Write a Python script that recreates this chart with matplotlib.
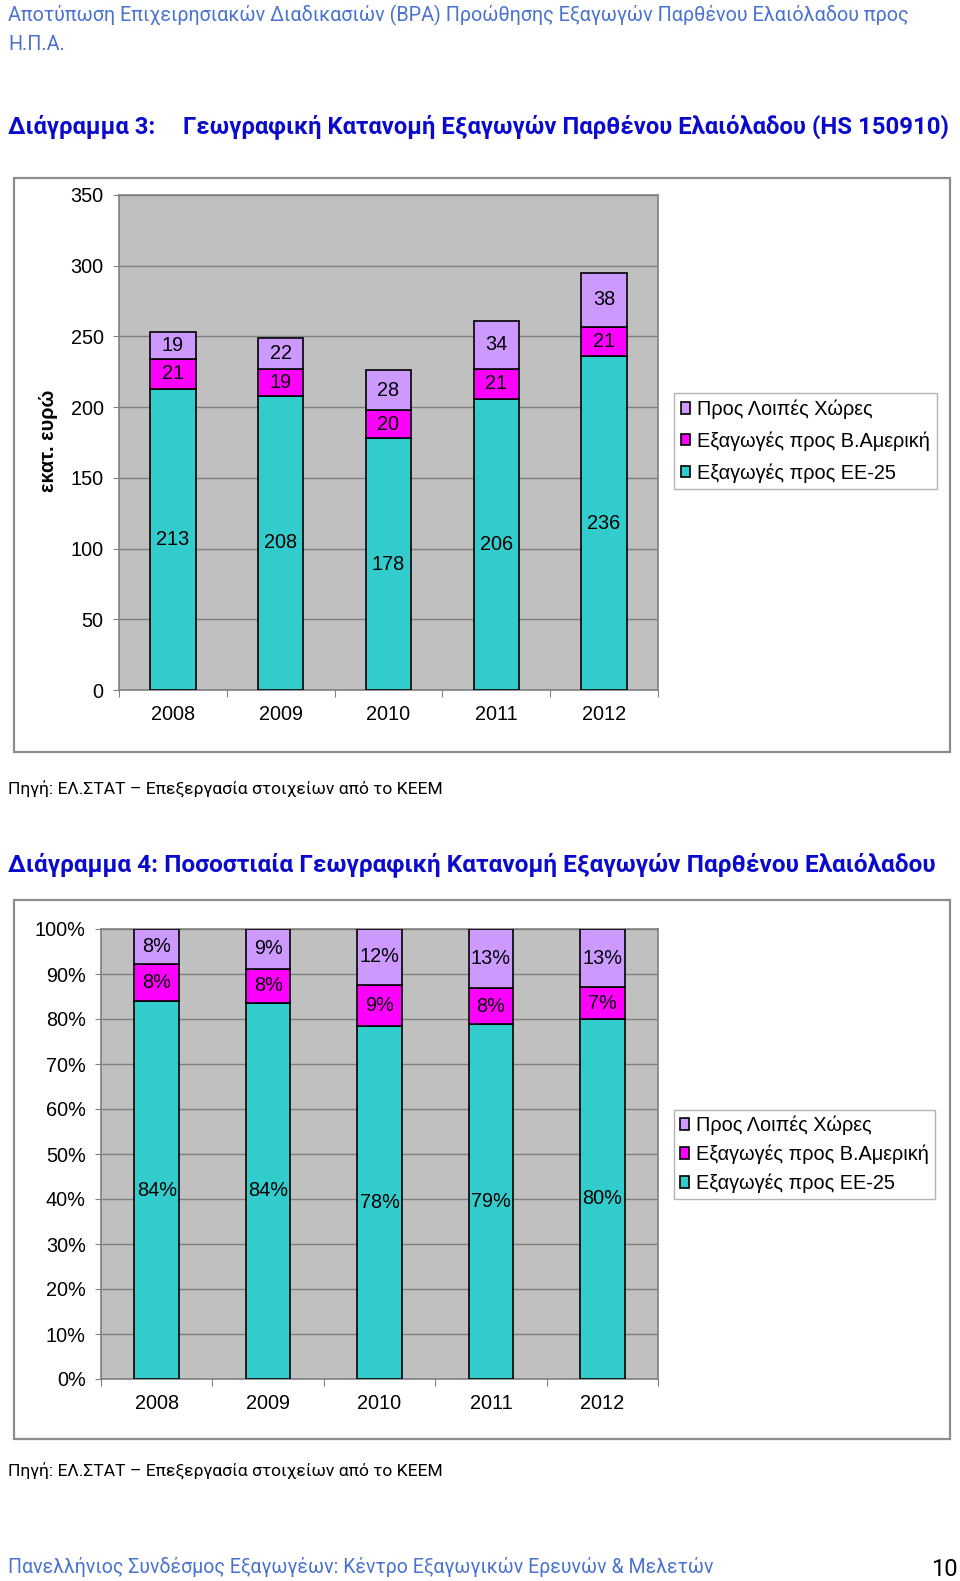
import matplotlib
matplotlib.use('Agg')
import matplotlib.pyplot as plt
from matplotlib.patches import Rectangle
import numpy as np

# ---------------- data ----------------
years = ['2008', '2009', '2010', '2011', '2012']
eu25 = [213, 208, 178, 206, 236]
n_america = [21, 19, 20, 21, 21]
others = [19, 22, 28, 34, 38]

eu25_pct = [84.0, 83.6, 78.4, 78.8, 80.0]
n_america_pct = [8.3, 7.6, 9.2, 8.1, 7.1]
others_pct = [7.7, 8.8, 12.4, 13.1, 12.9]

series_names = ['Προς Λοιπές Χώρες', 'Εξαγωγές προς Β.Αμερική', 'Εξαγωγές προς ΕΕ-25']
y1_ticks = [0, 50, 100, 150, 200, 250, 300, 350]
y2_ticks = [0, 10, 20, 30, 40, 50, 60, 70, 80, 90, 100]

header_1 = 'Αποτύπωση Επιχειρησιακών Διαδικασιών (BPA) Προώθησης Εξαγωγών Παρθένου Ελαιόλαδου προς'
header_2 = 'Η.Π.Α.'
title_3a = 'Διάγραμμα 3:'
title_3b = 'Γεωγραφική Κατανομή Εξαγωγών Παρθένου Ελαιόλαδου (HS 150910)'
title_4 = 'Διάγραμμα 4: Ποσοστιαία Γεωγραφική Κατανομή Εξαγωγών Παρθένου Ελαιόλαδου'
source = 'Πηγή: ΕΛ.ΣΤΑΤ – Επεξεργασία στοιχείων από το ΚΕΕΜ'
footer = 'Πανελλήνιος Συνδέσμος Εξαγωγέων: Κέντρο Εξαγωγικών Ερευνών & Μελετών'
page_no = '10'
y_label = 'εκατ. ευρώ'

# ---------------- style ----------------
W, H = 960, 1581
TEAL, MAGENTA, LILAC = '#33CCCC', '#FF00FF', '#CC99FF'
LIGHT_BLUE, DARK_BLUE = '#4A72D0', '#0A0ACC'
DOC_FONT = ['Roboto', 'DejaVu Sans']
CH_FONT = ['Liberation Sans', 'DejaVu Sans']
FS = 14.3

fig = plt.figure(figsize=(W / 100, H / 100), dpi=100)
fig.patch.set_facecolor('white')
renderer = fig.canvas.get_renderer()


def fx(x):
    return x / W


def fy(y):
    return 1 - y / H


def fit_text(x, y, s, width, color, weight='normal', ha='left', size=None):
    t = fig.text(fx(x), fy(y), s, color=color, fontweight=weight,
                 family=DOC_FONT, fontsize=12, va='center', ha=ha)
    if size is None:
        w = t.get_window_extent(renderer).width
        size = 12 * width / w
    t.set_fontsize(size)
    return t, size


def box(l, t, r, b):
    fig.add_artist(Rectangle((fx(l), fy(b)), (r - l) / W, (b - t) / H,
                             transform=fig.transFigure, facecolor='white',
                             edgecolor='#8C8C8C', lw=1.6, zorder=0))


def px_axes(l, t, r, b):
    return fig.add_axes([fx(l), fy(b), (r - l) / W, (b - t) / H])


def style_axes(ax, ymax, yticks, ylabels):
    ax.set_facecolor('#C0C0C0')
    ax.set_xlim(0, 5)
    ax.set_ylim(0, ymax)
    ax.set_yticks(yticks)
    ax.set_yticklabels(ylabels, family=CH_FONT, fontsize=FS)
    ax.yaxis.grid(True, color='#808080', lw=1.0, zorder=1)
    ax.set_axisbelow(True)
    ax.set_xticks(np.arange(6))
    ax.set_xticklabels([])
    ax.set_xticks(np.arange(5) + 0.5, minor=True)
    ax.set_xticklabels(years, minor=True, family=CH_FONT, fontsize=FS)
    ax.tick_params(axis='x', which='major', length=5, color='#808080', direction='out')
    ax.tick_params(axis='x', which='minor', length=0, pad=11)
    ax.tick_params(axis='y', length=4, color='#808080', pad=7)
    for side in ['top', 'right', 'left', 'bottom']:
        ax.spines[side].set_color('#808080')
        ax.spines[side].set_linewidth(1.2)


def stacked(ax, a, b, c, width, fmt):
    x = np.arange(5) + 0.5
    kw = dict(edgecolor='black', linewidth=1.2, zorder=3)
    c1 = ax.bar(x, a, width, color=TEAL, label=series_names[2], **kw)
    c2 = ax.bar(x, b, width, bottom=a, color=MAGENTA, label=series_names[1], **kw)
    c3 = ax.bar(x, c, width, bottom=np.add(a, b), color=LILAC, label=series_names[0], **kw)
    for cont in (c1, c2, c3):
        ax.bar_label(cont, fmt=fmt, label_type='center', fontsize=FS,
                     family=CH_FONT, color='black')
    return c1, c2, c3


def legend(conts, left, top, spacing, pad):
    handles = [conts[2], conts[1], conts[0]]
    leg = fig.legend(handles, series_names, loc='upper left',
                     bbox_to_anchor=(fx(left), fy(top)), borderaxespad=0,
                     prop={'family': CH_FONT, 'size': FS}, frameon=True,
                     fancybox=False, edgecolor='#A0A0A0', handlelength=0.5,
                     handleheight=0.5, handletextpad=0.35, labelspacing=spacing,
                     borderpad=pad)
    leg.get_frame().set_linewidth(1.0)
    return leg


# ---------------- document text ----------------
_, hs = fit_text(8, 15, header_1, 899, LIGHT_BLUE)
fit_text(8, 45, header_2, None, LIGHT_BLUE, size=hs)

_, ts = fit_text(183, 127, title_3b, 765, DARK_BLUE, weight='bold')
fit_text(8, 127, title_3a, None, DARK_BLUE, weight='bold', size=ts)

fit_text(8, 789, source, 434, 'black')
fit_text(8, 865, title_4, 928, DARK_BLUE, weight='bold')
fit_text(8, 1471, source, 434, 'black')
fit_text(8, 1567, footer, 701, LIGHT_BLUE)
fit_text(958, 1569, page_no, None, 'black', ha='right', size=17)

# ---------------- chart 3 ----------------
box(14, 178, 950, 752)
ax1 = px_axes(119, 195, 658, 690)
style_axes(ax1, 350, y1_ticks, [str(v) for v in y1_ticks])
conts1 = stacked(ax1, eu25, n_america, others, 0.42, '%d')
legend(conts1, 674, 393, 0.62, 0.33)
fig.text(fx(48), fy(441), y_label, rotation=90, ha='center', va='center',
         family=CH_FONT, fontsize=FS, fontweight='bold')

# ---------------- chart 4 ----------------
box(14, 900, 950, 1439)
ax2 = px_axes(101, 929, 658, 1379)
style_axes(ax2, 100, y2_ticks, [f'{v}%' for v in y2_ticks])
conts2 = stacked(ax2, eu25_pct, n_america_pct, others_pct, 0.40, '%.0f%%')
legend(conts2, 674, 1110, 0.48, 0.28)

fig.savefig('out.png', dpi=100, facecolor='white')
